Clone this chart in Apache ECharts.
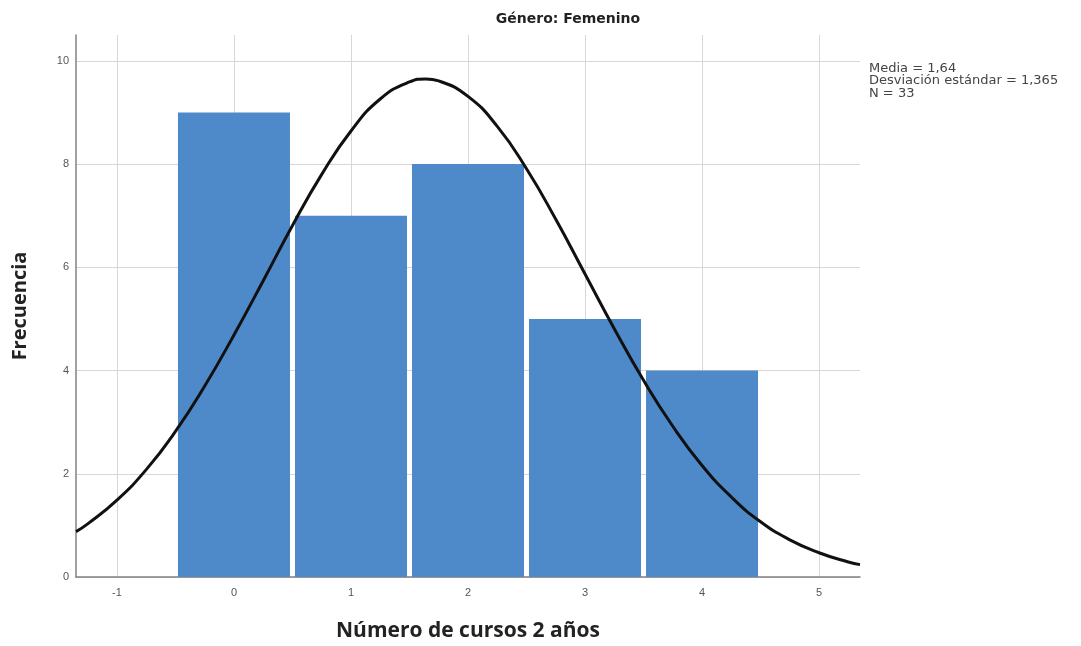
<!DOCTYPE html>
<html>
<head>
<meta charset="utf-8">
<script src="https://cdn.jsdelivr.net/npm/echarts@6/dist/echarts.min.js"></script>
<style>
  html, body { margin: 0; padding: 0; background: #fff; }
  #histograma { width: 1081px; height: 646px; }
</style>
</head>
<body>
<div id="histograma"></div>
<script>
  // frecuencias por número de cursos (bins de ancho 1)
  var cursos = [0, 1, 2, 3, 4]
  var frecuencias = [9, 7, 8, 5, 4]
  // curva normal
  var curvaX = [-1.35, -1.25, -1, -0.75, -0.5, -0.25, 0, 0.25, 0.5, 0.75, 1, 1.25, 1.5, 1.64, 1.75, 2, 2.25, 2.5, 2.75, 3, 3.25, 3.5, 3.75, 4, 4.25, 4.5, 4.75, 5, 5.25, 5.35]
  var curvaY = [0.88, 1.03, 1.49, 2.08, 2.82, 3.70, 4.69, 5.74, 6.81, 7.80, 8.64, 9.26, 9.59, 9.65, 9.61, 9.31, 8.73, 7.91, 6.93, 5.87, 4.81, 3.81, 2.92, 2.16, 1.55, 1.07, 0.72, 0.47, 0.29, 0.24]
  var ticksX = [-1, 0, 1, 2, 3, 4, 5]
  var ticksY = [0, 2, 4, 6, 8, 10]
  var estadisticos = ['Media = 1,64', 'Desviación estándar = 1,365', 'N = 33']

  var chart = echarts.init(document.getElementById('histograma'))

  var barras = cursos.map(function (c, i) {
    return [c - 0.5, c + 0.5, frecuencias[i]]
  })
  var curva = curvaX.map(function (x, i) {
    return [x, curvaY[i]]
  })

  var gridColor = '#ddd5d5'

  var option = {
    animation: false,
    backgroundColor: '#fff',
    textStyle: { fontFamily: 'Liberation Sans' },
    grid: { left: 76, right: 221, top: 35, bottom: 69, outerBoundsMode: 'none' },
    xAxis: {
      type: 'value',
      min: -1.35,
      max: 5.35,
      name: 'Número de cursos 2 años',
      nameLocation: 'middle',
      nameGap: 44,
      nameTextStyle: { fontFamily: 'Open Sans', fontWeight: 'bold', fontSize: 21, color: '#222' },
      axisLine: { lineStyle: { color: '#858080', width: 1.5 } },
      axisTick: { show: false, customValues: ticksX },
      axisLabel: { customValues: ticksX, color: '#555', fontSize: 11, margin: 10 },
      splitLine: { show: true, lineStyle: { color: gridColor } }
    },
    yAxis: {
      type: 'value',
      min: 0,
      max: 10.5,
      name: 'Frecuencia',
      nameLocation: 'middle',
      nameGap: 46,
      nameRotate: 90,
      nameTextStyle: { fontFamily: 'Open Sans', fontWeight: 'bold', fontSize: 20, color: '#222' },
      axisLine: { show: true, onZero: false, lineStyle: { color: '#858080', width: 1.5 } },
      axisTick: { show: false, customValues: ticksY },
      axisLabel: { customValues: ticksY, color: '#555', fontSize: 11, margin: 7 },
      splitLine: { show: true, lineStyle: { color: gridColor } }
    },
    graphic: [
      {
        type: 'text', x: 568, y: 19,
        style: {
          text: 'Género: Femenino',
          align: 'center', verticalAlign: 'middle',
          font: 'bold 14px "DejaVu Sans"', fill: '#222'
        }
      },
      {
        type: 'text', x: 869, y: 62,
        style: {
          text: estadisticos.join('\n'),
          font: '13px "DejaVu Sans"', lineHeight: 12.5, fill: '#444'
        }
      }
    ],
    series: [
      {
        name: 'Frecuencia',
        type: 'custom',
        data: barras,
        encode: { x: [0, 1], y: 2 },
        renderItem: function (params, api) {
          var p0 = api.coord([api.value(0), api.value(2)])
          var p1 = api.coord([api.value(1), 0])
          return {
            type: 'rect',
            shape: { x: p0[0] + 2.5, y: p0[1], width: p1[0] - p0[0] - 5, height: p1[1] - p0[1] },
            style: { fill: '#4e89c9' }
          }
        },
        z: 2
      },
      {
        name: 'Normal',
        type: 'line',
        data: curva,
        smooth: true,
        showSymbol: false,
        lineStyle: { color: '#111', width: 3 },
        z: 3
      }
    ]
  }

  chart.setOption(option)
</script>
</body>
</html>
